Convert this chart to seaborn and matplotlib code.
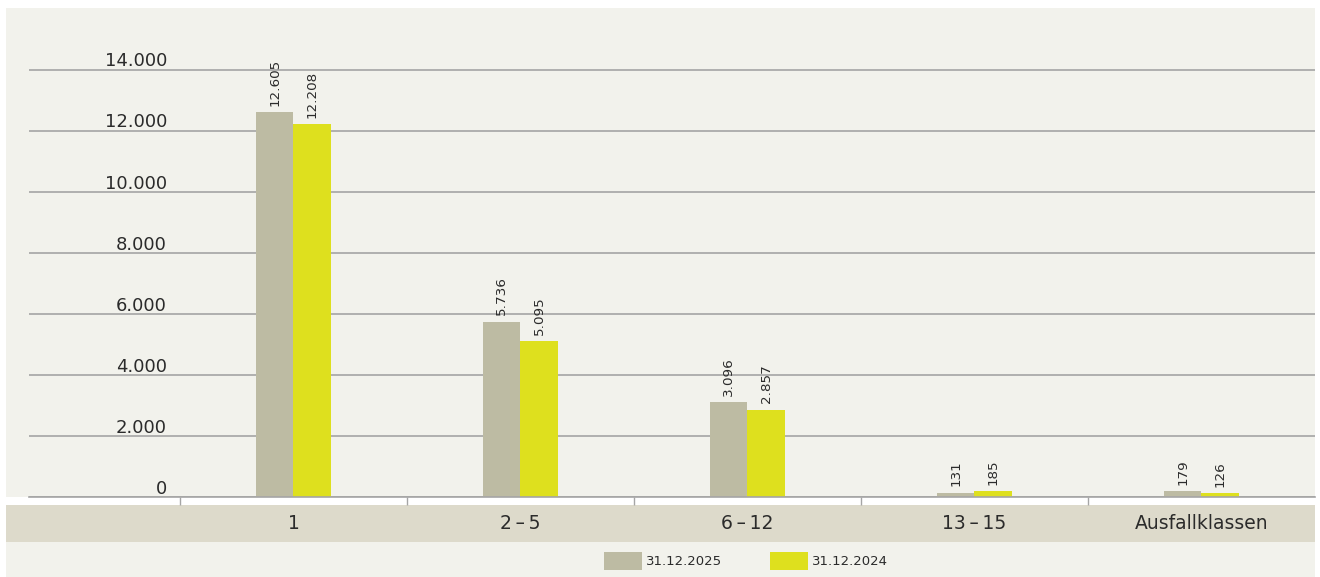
import matplotlib
matplotlib.use("Agg")
import matplotlib.pyplot as plt
import matplotlib.transforms as mtransforms
from matplotlib.patches import Rectangle, Patch
import seaborn as sns
import pandas as pd

# ---------------- data ----------------
categories = ["1", "2\u2009\u2013\u20095", "6\u2009\u2013\u200912", "13\u2009\u2013\u200915", "Ausfallklassen"]
series_names = ["31.12.2025", "31.12.2024"]
values_2025 = [12605, 5736, 3096, 131, 179]
values_2024 = [12208, 5095, 2857, 185, 126]
y_ticks = [0, 2000, 4000, 6000, 8000, 10000, 12000, 14000]
y_tick_labels = ["0", "2.000", "4.000", "6.000", "8.000", "10.000", "12.000", "14.000"]

# ---------------- style ----------------
GREY = "#BDBBA3"
YELLOW = "#DEE01E"
BG = "#F2F2EC"
BAND = "#DDDACB"
GRID = "#A5A5A5"
TXT = "#2B2B2B"

sns.set_style("white")
plt.rcParams["font.family"] = ["DejaVu Sans"]

W, H = 1320, 577
fig = plt.figure(figsize=(W / 100, H / 100), dpi=100, facecolor="white")


def fx(px):
    return px / W


def fy(py):
    return 1 - py / H


# panel background, white strip and beige category band
fig.patches.append(Rectangle((fx(6), 0), fx(1315) - fx(6), fy(8), transform=fig.transFigure,
                             facecolor=BG, edgecolor="none", zorder=-10))
fig.patches.append(Rectangle((fx(6), fy(505)), fx(1315) - fx(6), fy(497) - fy(505),
                             transform=fig.transFigure, facecolor="white", edgecolor="none", zorder=-9))
fig.patches.append(Rectangle((fx(6), fy(542)), fx(1315) - fx(6), fy(505) - fy(542),
                             transform=fig.transFigure, facecolor=BAND, edgecolor="none", zorder=-9))

# axes placement: 0 at y=496.7 px, 14000 at y=69.5 px
y0_px, y14_px = 496.7, 69.5
ymax = 14300
top_px = y0_px - (y0_px - y14_px) * ymax / 14000
ax = fig.add_axes([fx(29), fy(y0_px), fx(1315) - fx(29), fy(top_px) - fy(y0_px)])
ax.set_facecolor("none")

df = pd.DataFrame({
    "Kategorie": categories * 2,
    "Serie": [series_names[0]] * len(categories) + [series_names[1]] * len(categories),
    "Wert": values_2025 + values_2024,
})

sns.barplot(data=df, x="Kategorie", y="Wert", hue="Serie", order=categories,
            hue_order=series_names, palette=[GREY, YELLOW], width=0.33, gap=0,
            saturation=1, linewidth=0, errorbar=None, legend=False, ax=ax)

ax.set_xlim(-1.165, 4.5)
ax.set_ylim(0, ymax)
ax.set_xlabel("")
ax.set_ylabel("")

for s in ["top", "right", "left"]:
    ax.spines[s].set_visible(False)
ax.spines["bottom"].set_color(GRID)
ax.spines["bottom"].set_linewidth(1.2)

ax.set_yticks(y_ticks)
ax.set_yticklabels([])
ax.tick_params(axis="y", length=0)
ax.yaxis.grid(True, color=GRID, linewidth=1.2)
ax.set_axisbelow(True)

# y labels sitting just above the gridlines, right-aligned at x=167 px
lab_tr = mtransforms.blended_transform_factory(ax.transAxes, ax.transData) + \
    mtransforms.ScaledTranslation(0, 2.2 / 72, fig.dpi_scale_trans)
xlab = (167 - 29) / (1315 - 29)
for v, t in zip(y_ticks, y_tick_labels):
    ax.text(xlab, v, t, transform=lab_tr, ha="right", va="baseline", fontsize=13, color=TXT)

# categories
ax.set_xticks(range(len(categories)))
ax.set_xticklabels(categories)
ax.tick_params(axis="x", which="major", bottom=True, length=0, pad=12.5, labelsize=13.5, labelcolor=TXT)
ax.set_xticks([i - 0.5 for i in range(len(categories))], minor=True)
ax.tick_params(axis="x", which="minor", bottom=True, length=5.8, width=1, color=GRID, direction="out")

# value labels
for cont, vals in zip(ax.containers, [values_2025, values_2024]):
    labs = [f"{v:,}".replace(",", ".") for v in vals]
    ax.bar_label(cont, labels=labs, rotation=90, padding=4.5, fontsize=9.7, color=TXT)

# legend
handles = [Patch(facecolor=GREY, edgecolor="none"), Patch(facecolor=YELLOW, edgecolor="none")]
fig.legend(handles=handles, labels=series_names, loc="center", bbox_to_anchor=(fx(746), fy(561)),
           ncol=2, frameon=False, fontsize=9.5, handlelength=2.88, handleheight=1.74,
           handletextpad=0.3, columnspacing=3.7, borderpad=0, labelcolor=TXT)

fig.savefig("out.png", dpi=100, facecolor="white")
